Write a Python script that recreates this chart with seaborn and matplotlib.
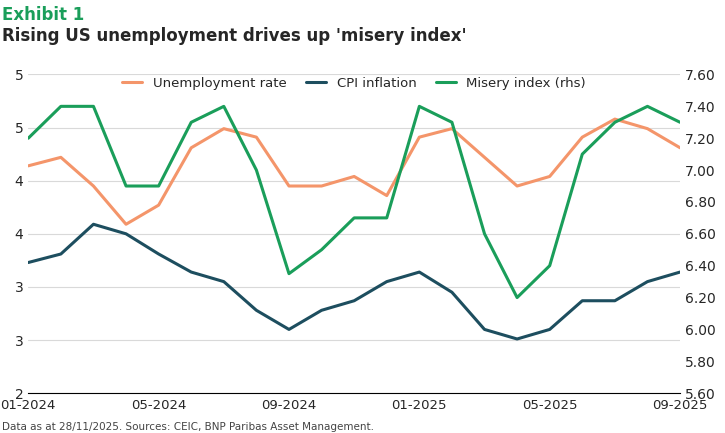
import numpy as np
import pandas as pd
import matplotlib.pyplot as plt
import seaborn as sns

months = pd.date_range("2024-01-01", "2025-09-01", freq="MS")
unemployment = [4.14, 4.22, 3.95, 3.59, 3.77, 4.31, 4.49, 4.41, 3.95, 3.95, 4.04, 3.86,
                4.41, 4.49, 4.22, 3.95, 4.04, 4.41, 4.58, 4.49, 4.31]
cpi = [3.23, 3.31, 3.59, 3.50, 3.31, 3.14, 3.05, 2.78, 2.60, 2.78, 2.87, 3.05,
       3.14, 2.95, 2.60, 2.51, 2.60, 2.87, 2.87, 3.05, 3.14]
misery = [7.2, 7.4, 7.4, 6.9, 6.9, 7.3, 7.4, 7.0, 6.35, 6.5, 6.7, 6.7,
          7.4, 7.3, 6.6, 6.2, 6.4, 7.1, 7.3, 7.4, 7.3]
left_ticks = [2, 2.5, 3, 3.5, 4, 4.5, 5]
left_labels = ["2", "3", "3", "4", "4", "5", "5"]
right_ticks = np.round(np.arange(5.6, 7.61, 0.2), 2)

df = pd.DataFrame({"x": np.arange(len(months)), "u": unemployment, "c": cpi, "m": misery})
orange, teal, green = "#F4956A", "#1D4E5F", "#1A9E5A"

sns.set_style("white")
plt.rcParams["font.family"] = ["DejaVu Sans"]
fig = plt.figure(figsize=(7.25, 4.33), dpi=100)
ax = fig.add_axes([0.039, 0.092, 0.899, 0.736])
ax2 = ax.twinx()

sns.lineplot(data=df, x="x", y="u", ax=ax, color=orange, lw=2.2, label="Unemployment rate", legend=False)
sns.lineplot(data=df, x="x", y="c", ax=ax, color=teal, lw=2.2, label="CPI inflation", legend=False)
sns.lineplot(data=df, x="x", y="m", ax=ax2, color=green, lw=2.2, label="Misery index (rhs)", legend=False)

ax.set_ylim(2, 5)
ax.set_yticks(left_ticks)
ax.set_yticklabels(left_labels, fontsize=10)
ax2.set_ylim(5.6, 7.6)
ax2.set_yticks(right_ticks)
ax2.set_yticklabels([f"{t:.2f}" for t in right_ticks], fontsize=10)
ax.set_xlim(0, len(months) - 1)
xt = list(range(0, len(months), 4))
ax.set_xticks(xt)
ax.set_xticklabels([months[i].strftime("%m-%Y") for i in xt], fontsize=9.5)
ax.set_xlabel("")
ax.set_ylabel("")
ax2.set_ylabel("")
ax.grid(axis="y", color="#d9d9d9", lw=0.8)
for a in (ax, ax2):
    for s in ["top", "left", "right"]:
        a.spines[s].set_visible(False)
    a.tick_params(length=0)
ax.tick_params(axis="x", pad=4)
ax.spines["bottom"].set_color("black")
ax2.spines["bottom"].set_visible(False)

h1, l1 = ax.get_legend_handles_labels()
h2, l2 = ax2.get_legend_handles_labels()
ax2.legend(h1 + h2, l1 + l2, loc="upper center", ncol=3, frameon=False, fontsize=9.5,
           bbox_to_anchor=(0.5, 1.03), handlelength=1.5, columnspacing=1.5)

fig.text(0.003, 0.965, "Exhibit 1", color=green, fontsize=12, fontweight="bold", va="center")
fig.text(0.003, 0.918, "Rising US unemployment drives up 'misery index'", fontsize=12,
         fontweight="bold", va="center")
fig.text(0.003, 0.008, "Data as at 28/11/2025. Sources: CEIC, BNP Paribas Asset Management.",
         fontsize=7.5, color="#444444")
fig.savefig("out.png", dpi=100)
